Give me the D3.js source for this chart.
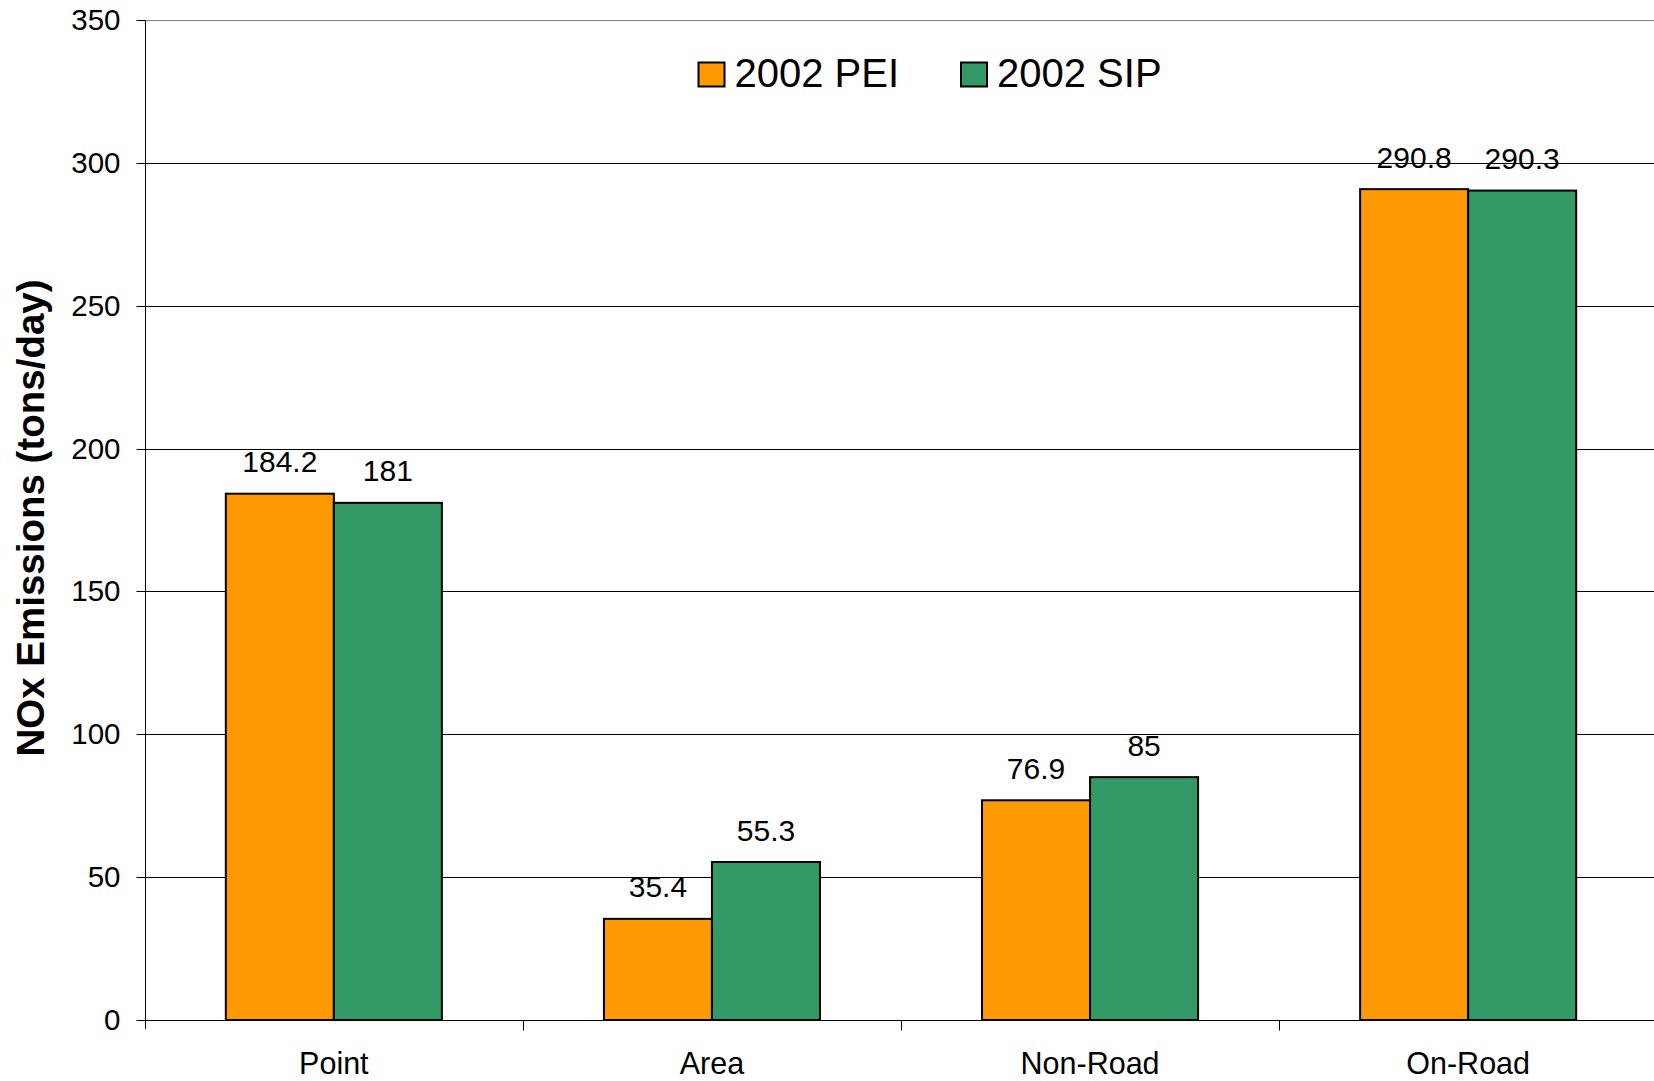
<!DOCTYPE html>
<html>
<head>
<meta charset="utf-8">
<script src="https://cdn.jsdelivr.net/npm/d3@7"></script>
<style>
  html, body { margin: 0; padding: 0; background: #fff; }
  svg { display: block; font-family: Arial, "Liberation Sans", sans-serif; }
</style>
</head>
<body>
<svg id="chart" width="1654" height="1081"></svg>
<script>
const categories = ["Point", "Area", "Non-Road", "On-Road"];
const seriesNames = ["2002 PEI", "2002 SIP"];
const pei = [184.2, 35.4, 76.9, 290.8];
const sip = [181, 55.3, 85, 290.3];
const peiLabels = ["184.2", "35.4", "76.9", "290.8"];
const sipLabels = ["181", "55.3", "85", "290.3"];
const yTicks = [0, 50, 100, 150, 200, 250, 300, 350];
const colors = ["#FF9900", "#339966"];
const yTitle = "NOx Emissions (tons/day)";

const svg = d3.select("#chart");
const x0 = 144.8, x1 = 1657.2, yBottom = 1020, yTop = 20;

const x = d3.scaleBand().domain(categories).range([x0, x1]).padding(0);
const y = d3.scaleLinear().domain([0, 350]).range([yBottom, yTop]);
const bw = x.bandwidth();
const barW = bw / 3.5;
const inner = d3.scaleBand().domain(seriesNames).range([bw * 0.75 / 3.5, bw * 0.75 / 3.5 + 2 * barW]).padding(0);

// gridlines
svg.append("g").selectAll("line").data(yTicks.filter(d => d > 0)).join("line")
  .attr("x1", x0).attr("x2", 1654)
  .attr("y1", d => Math.round(y(d)) + 0.5).attr("y2", d => Math.round(y(d)) + 0.5)
  .attr("stroke", d => d === 350 ? "#808080" : "#000").attr("stroke-width", 1);

// y axis
const yAxis = d3.axisLeft(y).tickValues(yTicks).tickSize(9).tickPadding(16).tickFormat(d3.format("d"));
const gy = svg.append("g").attr("transform", `translate(${Math.round(x0) + 0.5},0)`).call(yAxis);
gy.select(".domain").attr("stroke", "#000").attr("d", `M0,${yTop}V${yBottom + 9}`);
gy.selectAll(".tick line").attr("stroke", "#000");
gy.selectAll(".tick text").attr("font-size", 29.5).attr("fill", "#000")
  .attr("font-family", "Arial, 'Liberation Sans', sans-serif");
gy.selectAll(".tick").attr("transform", d => `translate(0,${Math.round(y(d)) + 0.5})`);

// bars
const data = categories.map((c, i) => ({ c, vals: [pei[i], sip[i]], labels: [peiLabels[i], sipLabels[i]] }));
const groups = svg.append("g").selectAll("g").data(data).join("g")
  .attr("transform", d => `translate(${x(d.c)},0)`);
groups.selectAll("rect").data(d => d.vals.map((v, j) => ({ v, j, name: seriesNames[j] }))).join("rect")
  .attr("x", d => inner(d.name))
  .attr("width", inner.bandwidth())
  .attr("y", d => y(d.v))
  .attr("height", d => yBottom - y(d.v))
  .attr("fill", d => colors[d.j])
  .attr("stroke", "#000").attr("stroke-width", 2);
groups.selectAll("text").data(d => d.vals.map((v, j) => ({ v, j, name: seriesNames[j], label: d.labels[j] }))).join("text")
  .attr("x", d => inner(d.name) + inner.bandwidth() / 2)
  .attr("y", d => y(d.v) - 21.5)
  .attr("text-anchor", "middle")
  .attr("font-size", 30)
  .attr("fill", "#000")
  .text(d => d.label);

// x axis
const gx = svg.append("g").attr("transform", `translate(0,${yBottom + 0.5})`);
gx.append("line").attr("x1", x0).attr("x2", 1654).attr("y1", 0).attr("y2", 0).attr("stroke", "#000");
gx.selectAll("line.tk").data(categories.slice(1)).join("line").attr("class", "tk")
  .attr("x1", d => Math.round(x(d)) + 0.5).attr("x2", d => Math.round(x(d)) + 0.5)
  .attr("y1", 0).attr("y2", 10).attr("stroke", "#000");
gx.selectAll("text").data(categories).join("text")
  .attr("x", d => x(d) + bw / 2)
  .attr("y", 53)
  .attr("text-anchor", "middle")
  .attr("font-size", 30.5)
  .attr("fill", "#000")
  .text(d => d);

// y title
svg.append("text")
  .attr("transform", `translate(44,518) rotate(-90)`)
  .attr("text-anchor", "middle")
  .attr("font-size", 38.5)
  .attr("font-weight", "bold")
  .attr("fill", "#000")
  .text(yTitle);

// legend
const legendX = [698.5, 961];
const leg = svg.append("g").selectAll("g").data(seriesNames).join("g")
  .attr("transform", (d, i) => `translate(${legendX[i]},0)`);
leg.append("rect").attr("x", 0).attr("y", 62.5).attr("width", 26).attr("height", 24)
  .attr("fill", (d, i) => colors[i]).attr("stroke", "#000").attr("stroke-width", 2);
leg.append("text").attr("x", 36).attr("y", 87).attr("font-size", 40).attr("fill", "#000").text(d => d);
</script>
</body>
</html>
